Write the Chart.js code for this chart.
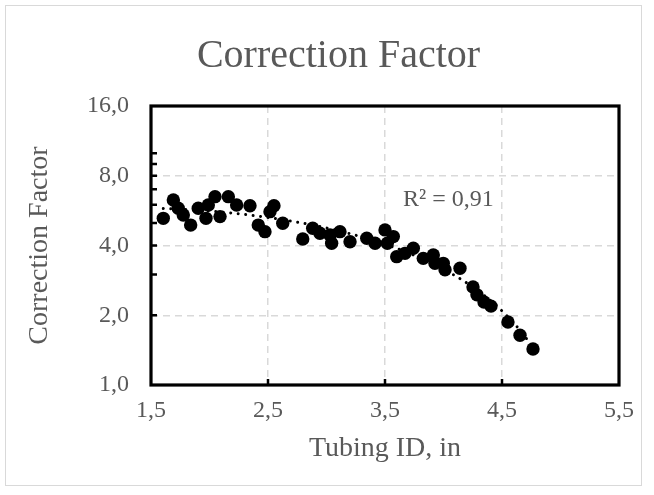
<!DOCTYPE html>
<html><head><meta charset="utf-8">
<script src="https://cdn.jsdelivr.net/npm/chart.js@4.4.1/dist/chart.umd.min.js"></script>
<style>html,body{margin:0;padding:0;background:#fff}</style>
</head><body>
<canvas id="c" width="654" height="495"></canvas>
<script>
// ---- data ----
const tubingID = [1.605,1.691,1.733,1.776,1.839,1.904,1.970,1.990,2.047,2.090,2.161,2.232,2.346,2.417,2.474,2.517,2.551,2.626,2.797,2.882,2.944,3.030,3.044,3.115,3.201,3.344,3.415,3.500,3.520,3.571,3.600,3.671,3.742,3.827,3.913,3.927,3.998,4.013,4.141,4.252,4.286,4.346,4.406,4.551,4.654,4.765];
const correctionFactor = [5.24,6.29,5.79,5.42,4.90,5.79,5.24,5.98,6.50,5.33,6.50,5.98,5.94,4.90,4.59,5.60,5.94,4.99,4.27,4.75,4.52,4.44,4.09,4.59,4.15,4.30,4.09,4.67,4.09,4.37,3.58,3.70,3.89,3.52,3.64,3.35,3.35,3.14,3.19,2.65,2.45,2.28,2.19,1.87,1.64,1.43];
const xTickValues = [1.5,2.5,3.5,4.5,5.5];
const yMajorTicks = [1,2,4,8,16];
const yMinorTicks = [3,5,6,7,9,10];
const chartTitle = 'Correction Factor';
const xAxisTitle = 'Tubing ID, in';
const yAxisTitle = 'Correction Factor';
const r2Label = 'R² = 0,91';

// ---- polynomial (order 2) trendline by least squares, as the spreadsheet did ----
function quadFit(xs, ys){
  let S=[0,0,0,0,0], T=[0,0,0];
  for(let i=0;i<xs.length;i++){const x=xs[i],y=ys[i];let p=1;for(let k=0;k<5;k++){S[k]+=p;if(k<3)T[k]+=p*y;p*=x;}}
  const A=[[S[0],S[1],S[2],T[0]],[S[1],S[2],S[3],T[1]],[S[2],S[3],S[4],T[2]]];
  for(let c=0;c<3;c++){for(let r=c+1;r<3;r++){const f=A[r][c]/A[c][c];for(let k=c;k<4;k++)A[r][k]-=f*A[c][k];}}
  const b=[0,0,0];
  for(let r=2;r>=0;r--){let s=A[r][3];for(let k=r+1;k<3;k++)s-=A[r][k]*b[k];b[r]=s/A[r][r];}
  return b;
}
const coef = quadFit(tubingID, correctionFactor);
const xMin = Math.min(...tubingID), xMax = Math.max(...tubingID);
const trend = [];
for(let i=0;i<=80;i++){const x=xMin+(xMax-xMin)*i/80;trend.push({x:x,y:coef[0]+coef[1]*x+coef[2]*x*x});}
const points = tubingID.map((x,i)=>({x:x,y:correctionFactor[i]}));

const FONT = "'Liberation Serif', 'Times New Roman', serif";
const GRAY = '#595959';
const GRID = '#d9d9d9';
const fmt = v => Number(v).toFixed(1).replace('.', ',');

const decor = {
  id:'decor',
  beforeDraw(chart){
    const ctx = chart.ctx;
    ctx.save();
    ctx.strokeStyle = GRID; ctx.lineWidth = 1;
    ctx.strokeRect(5.5, 5.5, 636, 480);
    ctx.restore();
  },
  afterDraw(chart){
    const ctx = chart.ctx, a = chart.chartArea;
    const xs = chart.scales.x, ys = chart.scales.y;
    ctx.save();
    ctx.strokeStyle = '#000'; ctx.lineWidth = 3.2;
    ctx.strokeRect(a.left, a.top, a.right-a.left, a.bottom-a.top);
    ctx.lineWidth = 2.5;
    ctx.beginPath();
    [2,3,4,5,6,7,8,9,10].forEach(v=>{const y=ys.getPixelForValue(v);ctx.moveTo(a.left,y);ctx.lineTo(a.left+6,y);});
    xTickValues.slice(1,-1).forEach(v=>{const x=xs.getPixelForValue(v);ctx.moveTo(x,a.bottom);ctx.lineTo(x,a.bottom-6);});
    ctx.stroke();
    ctx.fillStyle = GRAY;
    ctx.font = '40px ' + FONT;
    ctx.textAlign = 'center'; ctx.textBaseline = 'alphabetic';
    ctx.fillText(chartTitle, 338.5, 67);
    ctx.font = '24px ' + FONT;
    ctx.textAlign = 'left';
    ctx.fillText(r2Label, 403, 206);
    ctx.restore();
  }
};

new Chart(document.getElementById('c'), {
  type: 'scatter',
  data: { datasets: [
    { label: 'Correction Factor', data: points, pointRadius: 6.7, pointHoverRadius: 6.7, pointBackgroundColor: '#000', pointBorderWidth: 0, backgroundColor:'#000', order: 1 },
    { type: 'line', label: 'Trend', data: trend, showLine: true, pointRadius: 0, borderColor: '#000', borderWidth: 3, borderDash: [0.01, 7.5], borderCapStyle: 'round', fill: false, tension: 0, order: 2 }
  ]},
  options: {
    responsive: false, animation: false, devicePixelRatio: 1,
    layout: { padding: { left: 0, right: 35, top: 106, bottom: 0 } },
    plugins: { legend: { display: false }, tooltip: { enabled: false }, title: { display: false } },
    scales: {
      x: {
        type: 'linear', min: 1.5, max: 5.5,
        afterBuildTicks: s => { s.ticks = xTickValues.map(v => ({ value: v })); },
        afterFit: s => { s.height = 110; },
        ticks: { callback: v => fmt(v), color: GRAY, font: { family: FONT, size: 24 }, padding: 11, maxRotation: 0, autoSkip: false },
        grid: { drawTicks: false, lineWidth: 1.5, color: c => (c.tick && (c.tick.value === 1.5 || c.tick.value === 5.5)) ? 'rgba(0,0,0,0)' : GRID },
        border: { display: false, dash: [7, 5] },
        title: { display: true, text: xAxisTitle, color: GRAY, font: { family: FONT, size: 28 }, padding: { top: 0, bottom: 30 } }
      },
      y: {
        type: 'logarithmic', min: 1, max: 16,
        afterBuildTicks: s => { s.ticks = yMajorTicks.concat(yMinorTicks).sort((p,q)=>p-q).map(v => ({ value: v, major: yMajorTicks.includes(v) })); },
        afterFit: s => { s.width = 151; },
        ticks: { callback: v => yMajorTicks.includes(v) ? fmt(v) : '', color: GRAY, font: { family: FONT, size: 24 }, padding: 22, autoSkip: false },
        grid: { drawTicks: false, lineWidth: 1.5, color: c => (c.tick && [2,4,8].includes(c.tick.value)) ? GRID : 'rgba(0,0,0,0)' },
        border: { display: false, dash: [7, 5] },
        title: { display: true, text: yAxisTitle, color: GRAY, font: { family: FONT, size: 28 }, padding: { top: 23, bottom: 0 } }
      }
    }
  },
  plugins: [decor]
});
</script>
</body></html>
